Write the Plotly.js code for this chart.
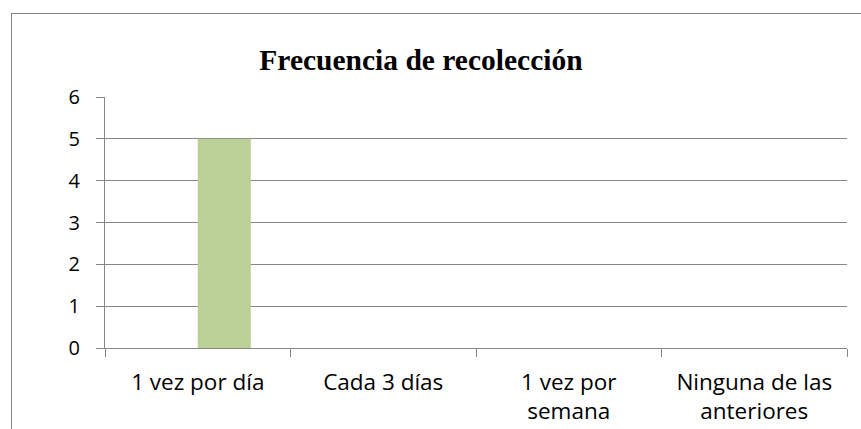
<!DOCTYPE html>
<html><head><meta charset="utf-8">
<script src="https://cdn.plot.ly/plotly-3.0.1.min.js"></script>
<style>
html,body{margin:0;padding:0;background:#fff;}
#wrap{position:relative;width:861px;height:429px;overflow:hidden;}
#frame{position:absolute;left:11px;top:13px;width:900px;height:500px;border-left:1px solid #868686;border-top:1px solid #868686;}
#chart{position:absolute;left:0;top:0;width:861px;height:429px;}
</style></head>
<body>
<div id="wrap"><div id="frame"></div><div id="chart"></div></div>
<script>
const categories = ["1 vez por día", "Cada 3 días", "1 vez por<br>semana", "Ninguna de las<br>anteriores"];
const values = [5, 0, 0, 0];
const yTicks = [0, 1, 2, 3, 4, 5, 6];

const xFont = {family: "Open Sans, Lato, sans-serif", size: 22.5, color: "#000"};
const yFont = {family: "Open Sans, Lato, sans-serif", size: 20, color: "#000"};

const trace = {
  type: "bar",
  x: categories,
  y: values,
  width: 0.286,
  offset: 0,
  marker: {color: "#BBD094", line: {width: 0}},
  hoverinfo: "skip"
};

const layout = {
  width: 861, height: 429,
  paper_bgcolor: "rgba(0,0,0,0)",
  plot_bgcolor: "rgba(0,0,0,0)",
  margin: {l: 105, r: 14, t: 97, b: 81},
  showlegend: false,
  title: {
    text: "<b>Frecuencia de recolección</b>",
    font: {family: "Liberation Serif, Times New Roman, serif", size: 29.5, color: "#000"},
    x: 421 / 861, xref: "container", xanchor: "center",
    y: 1 - 60 / 429, yref: "container", yanchor: "middle"
  },
  font: xFont,
  xaxis: {
    type: "category",
    tickson: "boundaries",
    ticks: "outside", ticklen: 8, tickcolor: "#868686", tickwidth: 1,
    showline: true, linecolor: "#868686", linewidth: 1,
    showgrid: false, zeroline: false,
    tickfont: xFont,
    ticklabelstandoff: 14,
    fixedrange: true
  },
  yaxis: {
    range: [0, 6],
    tickvals: yTicks,
    ticktext: yTicks.map(String),
    ticks: "outside", ticklen: 8, tickcolor: "#868686", tickwidth: 1,
    showline: true, linecolor: "#868686", linewidth: 1,
    showgrid: true, gridcolor: "#868686", gridwidth: 1,
    zeroline: false,
    tickfont: yFont,
    ticklabelstandoff: 12,
    fixedrange: true
  }
};

Plotly.newPlot("chart", [trace], layout, {displayModeBar: false, staticPlot: true});
</script>
</body></html>
